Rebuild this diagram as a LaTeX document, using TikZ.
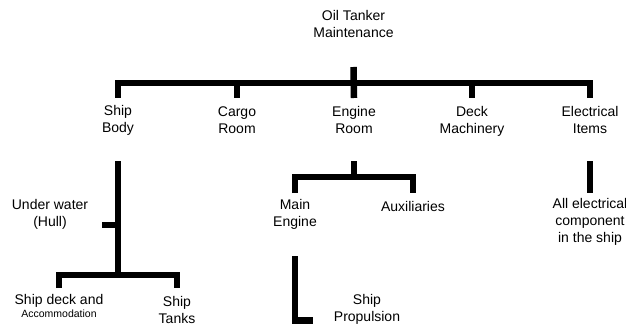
\documentclass[tikz,border=0pt]{standalone}
\usepackage{fontspec}
\setmainfont{Liberation Sans}
\begin{document}
\begin{tikzpicture}[x=1pt,y=-1pt,
  lbl/.style={align=center,font=\fontsize{14}{17}\selectfont,inner sep=0pt},
  bar/.style={line width=6.5pt,line cap=butt,line join=miter}]
\useasboundingbox (0,0) rectangle (626,326);
% level y coordinates
\coordinate (ytop)  at (0,67);
\coordinate (ybar)  at (0,83);
\coordinate (ystub) at (0,98);
\coordinate (ysub)  at (0,161);
\coordinate (ehbar) at (0,177);
\coordinate (ehend) at (0,193);
\coordinate (yhull) at (0,225);
\coordinate (ylow)  at (0,275);
\coordinate (ylowe) at (0,288);
\coordinate (ypt)   at (0,256);
\coordinate (ypb)   at (0,320.5);
% nodes
\node[lbl] (root) at (353.5,24) {Oil Tanker\\Maintenance};
\node[lbl] (body) at (118,120) {Ship\\Body};
\node[lbl] (cargo) at (237,120) {Cargo\\Room};
\node[lbl] (engine) at (354,120) {Engine\\Room};
\node[lbl] (deck) at (472,121) {Deck\\Machinery};
\node[lbl] (elec) at (590,120) {Electrical\\Items};
\node[lbl] (hull) at (50,214.5) {Under water\\(Hull)};
\node[lbl] (mainengine) at (295,214.5) {Main\\Engine};
\node[lbl] (aux) at (413,206) {Auxiliaries};
\node[lbl] (allelec) at (590,222) {All electrical\\component\\in the ship};
\node[lbl] (deckacc) at (59,305.5) {Ship deck and\\[-4pt]{\fontsize{10.5}{12}\selectfont Accommodation}};
\node[lbl] (tanks) at (177,309.5) {Ship\\Tanks};
\node[lbl] (propulsion) at (367,309.5) {Ship\\Propulsion};
% connectors
\draw[bar] (root |- ytop) -- (engine |- ystub);
\draw[bar] (body |- ystub) -- (body |- ybar) -- (elec |- ybar) -- (elec |- ystub);
\draw[bar] (cargo |- ybar) -- (cargo |- ystub);
\draw[bar] (deck |- ybar) -- (deck |- ystub);
% ship body
\draw[bar] (body |- ysub) -- (body |- ylow);
\coordinate (hullend) at (102,225);
\draw[bar] (hullend) -- (body |- yhull);
\draw[bar] (deckacc |- ylowe) -- (deckacc |- ylow) -- (tanks |- ylow) -- (tanks |- ylowe);
% engine room
\draw[bar] (engine |- ysub) -- (engine |- ehbar);
\draw[bar] (mainengine |- ehend) -- (mainengine |- ehbar) -- (aux |- ehbar) -- (aux |- ehend);
\coordinate (propend) at (313,320.5);
\draw[bar] (mainengine |- ypt) -- (mainengine |- ypb) -- (propend);
% electrical
\draw[bar] (elec |- ysub) -- (elec |- ehend);
\end{tikzpicture}
\end{document}
